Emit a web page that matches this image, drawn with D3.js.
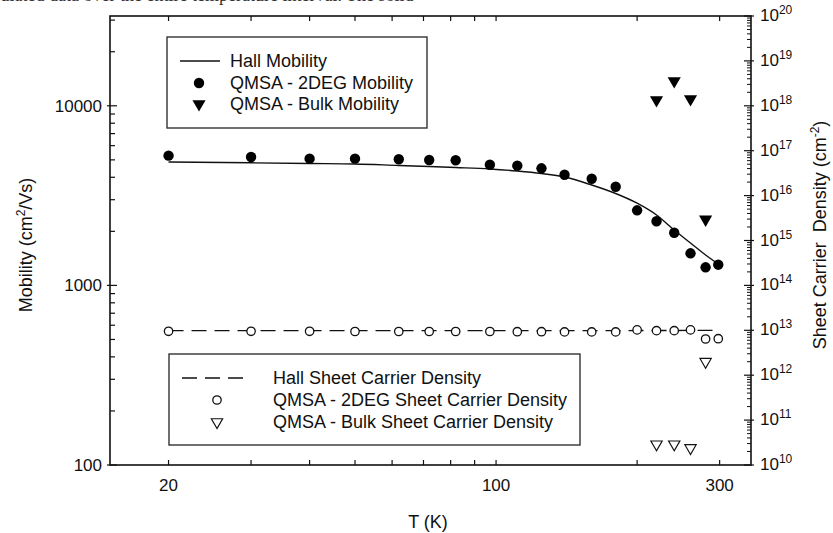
<!DOCTYPE html>
<html><head><meta charset="utf-8">
<script src="https://cdn.jsdelivr.net/npm/d3@7"></script>
<style>
body{margin:0;background:#fff;}
svg{display:block;font-family:"Liberation Sans",Arial,sans-serif;}
</style></head>
<body>
<svg id="c" width="833" height="533"></svg>
<script>
// ---- data ----
const temps = [20,30,40,50,62,72,82,97,111,125,140,160,180,200,220,240,260,280,298];
const hallMobility = [4864,4815,4771,4742,4652,4593,4534,4450,4335,4198,4015,3622,3249,2869,2466,2034,1722,1476,1315];
const qmsa2degMobility = [5276,5188,5077,5077,5038,4993,4974,4699,4640,4487,4134,3927,3544,2619,2275,1965,1509,1261,1304];
const bulkTemps = [220,240,260,280];
const bulkMobility = [10770,13740,10910,2330];
const hallDensity = [9.8e12,9.8e12,9.8e12,9.8e12,9.8e12,9.8e12,9.8e12,9.8e12,9.8e12,9.8e12,9.8e12,9.8e12,9.8e12,9.9e12,9.9e12,9.9e12,1.0e13,1.0e13,1.0e13];
const qmsa2degDensity = [9.5e12,9.5e12,9.5e12,9.4e12,9.4e12,9.4e12,9.4e12,9.4e12,9.3e12,9.3e12,9.2e12,9.2e12,9.2e12,1.02e13,9.8e12,9.8e12,1.02e13,6.4e12,6.5e12];
const bulkDensity = [2.9e10,2.9e10,2.4e10,2.0e12];
const xTickLabels = [20,100,300];
const yLeftTickLabels = [100,1000,10000];
const yRightExponents = [10,11,12,13,14,15,16,17,18,19,20];

// ---- layout ----
const L=110,T=16,R=751,B=465;
const svg=d3.select("#c");
const x=d3.scaleLog().domain([15,350]).range([L,R]);
const yL=d3.scaleLog().domain([100,Math.pow(10,4.5)]).range([B,T]);
const yR=d3.scaleLog().domain([1e10,1e20]).range([B,T]);

// top caption fragment (clipped at the top edge, as in the reference)
svg.append("text").attr("x",219).attr("y",1).attr("text-anchor","end")
  .attr("font-family","'Liberation Serif',serif").attr("font-size",18).attr("fill","#333")
  .text("the calculated data over the entire tem");
svg.append("text").attr("x",219).attr("y",1)
  .attr("font-family","'Liberation Serif',serif").attr("font-size",18).attr("fill","#333")
  .text("perature interval. The solid");

// ticks
const xTicks=[20,30,40,50,60,70,80,90,100,200,300];
const g=svg.append("g");
xTicks.forEach(t=>{
  g.append("line").attr("x1",x(t)).attr("x2",x(t)).attr("y1",B).attr("y2",B-5).attr("stroke","#111").attr("stroke-width",1.2);
  g.append("line").attr("x1",x(t)).attr("x2",x(t)).attr("y1",T).attr("y2",T+5).attr("stroke","#111").attr("stroke-width",1.2);
});
xTickLabels.forEach(t=>{
  g.append("text").attr("x",x(t)).attr("y",491).attr("text-anchor","middle").attr("font-size",17).attr("fill","#111").text(t);
});
// left ticks
const leftTicks=[];
for(let d=100; d<=10000; d*=10){ for(let k=1;k<=9;k++){ const v=d*k; if(v<=Math.pow(10,4.5)) leftTicks.push(v);} }
leftTicks.forEach(v=>{
  const major = yLeftTickLabels.includes(v);
  g.append("line").attr("x1",major?L-3:L).attr("x2",L+(major?7:5)).attr("y1",yL(v)).attr("y2",yL(v)).attr("stroke","#111").attr("stroke-width",1.2);
});
yLeftTickLabels.forEach(v=>{
  g.append("text").attr("x",102).attr("y",yL(v)+6).attr("text-anchor","end").attr("font-size",17).attr("fill","#111").text(v);
});
// right ticks
yRightExponents.forEach(e=>{
  const base=Math.pow(10,e);
  g.append("line").attr("x1",R-7).attr("x2",R+3).attr("y1",yR(base)).attr("y2",yR(base)).attr("stroke","#111").attr("stroke-width",1.2);
  if(e<20){ for(let k=2;k<=9;k++){ const v=base*k;
    g.append("line").attr("x1",R-4).attr("x2",R).attr("y1",yR(v)).attr("y2",yR(v)).attr("stroke","#111").attr("stroke-width",1);
  }}
  const tx=g.append("text").attr("x",760).attr("y",yR(base)+5).attr("font-size",17).attr("fill","#111");
  tx.append("tspan").text("10");
  tx.append("tspan").attr("dy",-7).attr("font-size",12).text(e);
});

// frame
svg.append("rect").attr("x",L).attr("y",T).attr("width",R-L).attr("height",B-T)
  .attr("fill","none").attr("stroke","#111").attr("stroke-width",1.6);

// axis titles
svg.append("text").attr("x",428).attr("y",528).attr("text-anchor","middle").attr("font-size",18).attr("fill","#111").text("T (K)");
const lt=svg.append("text").attr("transform","translate(32,245) rotate(-90)").attr("text-anchor","middle").attr("font-size",18).attr("fill","#111");
lt.append("tspan").text("Mobility (cm");
lt.append("tspan").attr("dy",-7).attr("font-size",12).text("2");
lt.append("tspan").attr("dy",7).text("/Vs)");
const rt=svg.append("text").attr("transform","translate(826,235) rotate(-90)").attr("text-anchor","middle").attr("font-size",18).attr("fill","#111");
rt.append("tspan").text("Sheet Carrier\u00a0 Density (cm");
rt.append("tspan").attr("dy",-7).attr("font-size",12).text("-2");
rt.append("tspan").attr("dy",7).text(")");

// data marks
const hallLine=d3.line().x((d,i)=>x(temps[i])).y(d=>yL(d)).curve(d3.curveMonotoneX);
svg.append("path").datum(hallMobility).attr("d",hallLine).attr("fill","none").attr("stroke","#111").attr("stroke-width",1.4);
const hallDLine=d3.line().x((d,i)=>x(temps[i])).y(d=>yR(d));
svg.append("path").datum(hallDensity).attr("d",hallDLine).attr("fill","none").attr("stroke","#111").attr("stroke-width",1.3).attr("stroke-dasharray","15,8");

svg.append("g").selectAll("circle").data(qmsa2degMobility).join("circle")
  .attr("cx",(d,i)=>x(temps[i])).attr("cy",d=>yL(d)).attr("r",5.2).attr("fill","#000");
const triDown=d3.symbol().type(d3.symbolTriangle).size(75);
svg.append("g").selectAll("path").data(bulkMobility).join("path")
  .attr("d",triDown).attr("transform",(d,i)=>`translate(${x(bulkTemps[i])},${yL(d)}) rotate(180)`).attr("fill","#000");

svg.append("g").selectAll("circle").data(qmsa2degDensity).join("circle")
  .attr("cx",(d,i)=>x(temps[i])).attr("cy",d=>yR(d)).attr("r",4.2).attr("fill","#fff").attr("stroke","#111").attr("stroke-width",1.3);
const triOpen=d3.symbol().type(d3.symbolTriangle).size(55);
svg.append("g").selectAll("path").data(bulkDensity).join("path")
  .attr("d",triOpen).attr("transform",(d,i)=>`translate(${x(bulkTemps[i])},${yR(d)}) rotate(180)`).attr("fill","#fff").attr("stroke","#111").attr("stroke-width",1.2);

// legend 1
const l1=svg.append("g");
l1.append("rect").attr("x",167).attr("y",37).attr("width",260).attr("height",91).attr("fill","#fff").attr("stroke","#333").attr("stroke-width",1.4);
l1.append("line").attr("x1",180).attr("x2",220).attr("y1",61).attr("y2",61).attr("stroke","#111").attr("stroke-width",1.4);
l1.append("circle").attr("cx",199).attr("cy",83).attr("r",5.2).attr("fill","#000");
l1.append("path").attr("d",triDown).attr("transform","translate(199,104) rotate(180)").attr("fill","#000");
[["Hall Mobility",61],["QMSA - 2DEG Mobility",83],["QMSA - Bulk Mobility",104]].forEach(([t,yy])=>{
  l1.append("text").attr("x",230).attr("y",yy+6).attr("font-size",18).attr("fill","#111").text(t);
});
// legend 2
const l2=svg.append("g");
l2.append("rect").attr("x",169).attr("y",354).attr("width",411).attr("height",91).attr("fill","#fff").attr("stroke","#333").attr("stroke-width",1.4);
l2.append("line").attr("x1",182).attr("x2",244).attr("y1",378).attr("y2",378).attr("stroke","#111").attr("stroke-width",1.3).attr("stroke-dasharray","15,8");
l2.append("circle").attr("cx",217).attr("cy",400).attr("r",4.2).attr("fill","#fff").attr("stroke","#111").attr("stroke-width",1.3);
l2.append("path").attr("d",triOpen).attr("transform","translate(217,422) rotate(180)").attr("fill","#fff").attr("stroke","#111").attr("stroke-width",1.2);
[["Hall Sheet Carrier Density",378],["QMSA - 2DEG Sheet Carrier Density",400],["QMSA - Bulk Sheet Carrier Density",422]].forEach(([t,yy])=>{
  l2.append("text").attr("x",273).attr("y",yy+6).attr("font-size",18).attr("fill","#111").text(t);
});
</script>
</body></html>
